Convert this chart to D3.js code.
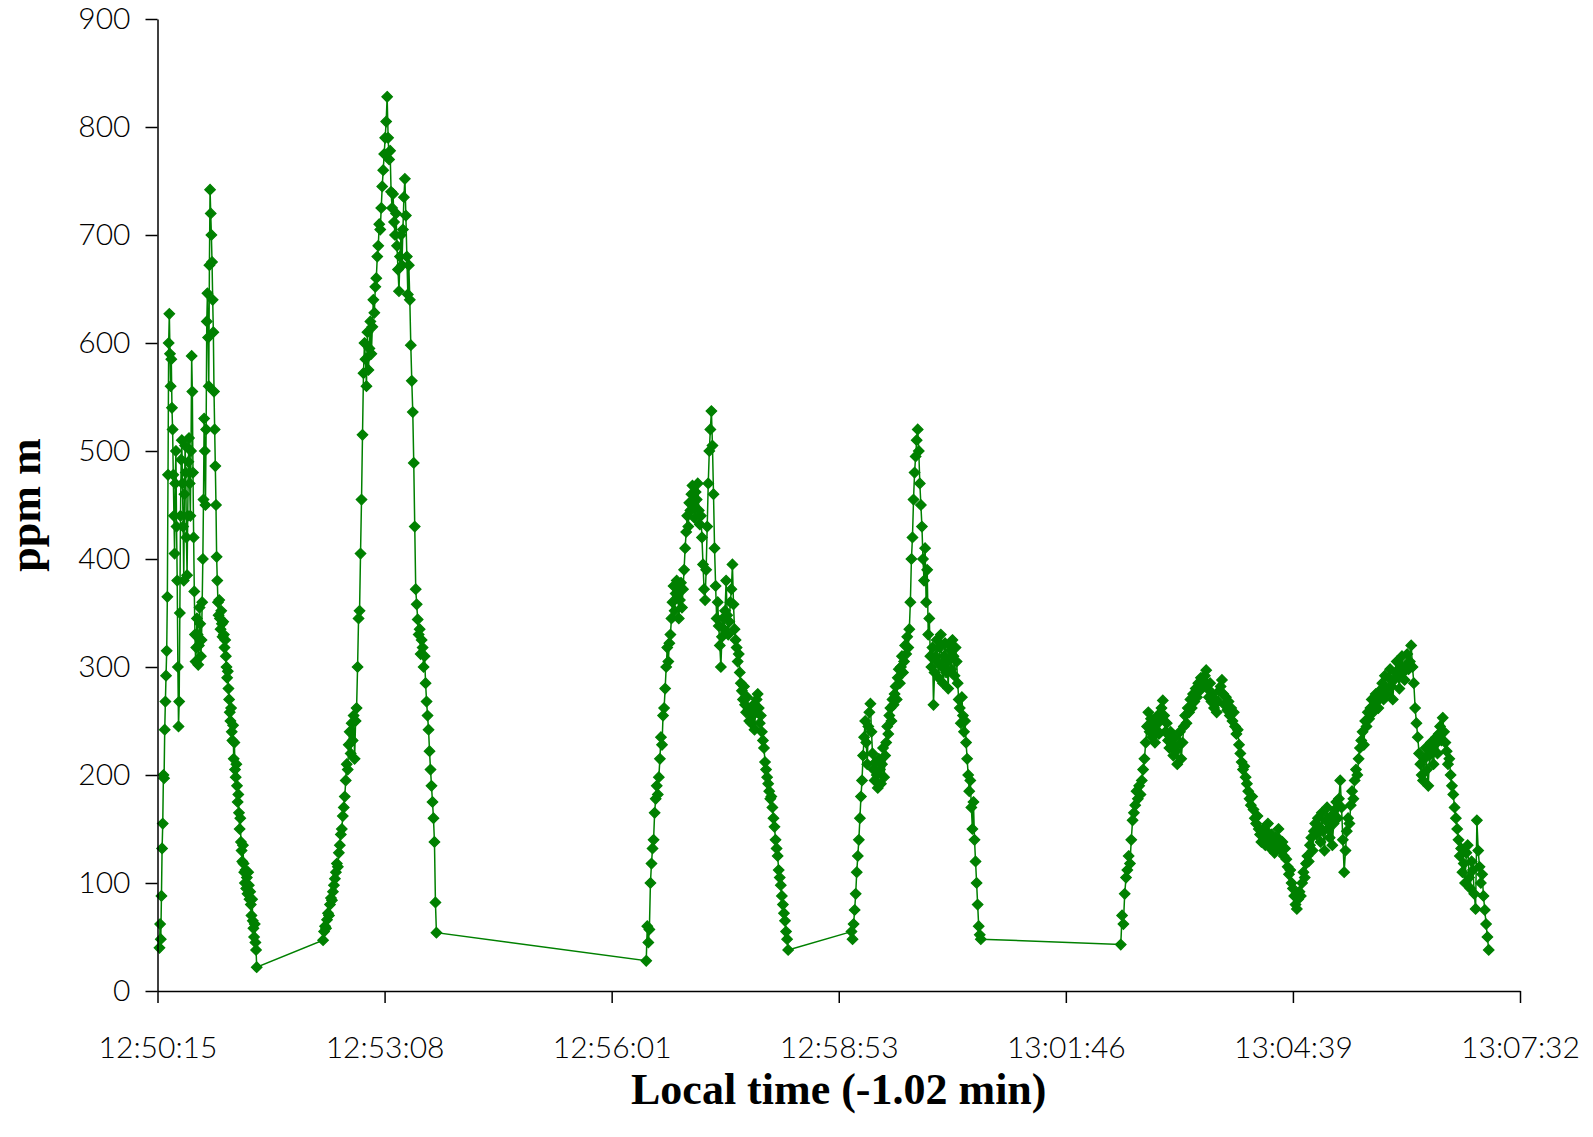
<!DOCTYPE html>
<html>
<head>
<meta charset="utf-8">
<script src="https://cdn.jsdelivr.net/npm/d3@7"></script>
<style>
	body { margin: 0; background: #fff; }
	svg { display: block; }
	.tick text { font-family: Lato, 'Open Sans', sans-serif; font-weight: 300; font-size: 30px; fill: #000; }
	.title { font-family: 'Liberation Serif', 'DejaVu Serif', serif; font-weight: bold; font-size: 44px; fill: #000; }
</style>
</head>
<body>
<svg id="chart" width="1593" height="1137"></svg>
<script>
// seconds after 12:50:15 for the x axis ticks (0.002 day steps)
const xTickSeconds = [0, 172.8, 345.6, 518.4, 691.2, 864, 1036.8];
const xTickLabels = ['12:50:15', '12:53:08', '12:56:01', '12:58:53', '13:01:46', '13:04:39', '13:07:32'];
const yTicks = [0, 100, 200, 300, 400, 500, 600, 700, 800, 900];

// each run of the logger: start (s after 12:50:15) and sample interval (s)
const runStarts = [1.5, 126.0, 371.9, 528.1, 733.0];
const runSteps = [0.5, 0.75, 0.8, 0.8, 1.0];

// ppm m readings
const run1 = [40, 62, 48, 88, 132, 155, 200, 197, 242, 268, 292, 315, 365,
	478, 600, 627, 590, 560, 585, 540, 520, 478, 440, 405, 470, 500, 430, 380, 300, 245,
	268, 350, 440, 492, 510, 470, 430, 380, 460, 505, 480, 420, 385, 440, 490, 512, 470, 440, 500, 588,
	555, 480, 420, 370, 330, 305, 318, 345, 330, 302, 320, 355, 340, 310, 325, 360, 400,
	455, 530, 500, 450, 520, 620, 646, 605, 560, 672, 742, 720, 700, 675, 640, 610, 555,
	520, 486, 450, 402, 380, 360, 348, 362, 345, 335, 352, 340, 328, 342, 330, 318, 325,
	310, 300, 290, 296, 280, 270, 258, 250, 262, 240, 232, 246, 215, 230, 205, 198,
	210, 190, 175, 182, 165, 150, 160, 138, 130, 120, 135, 118,
	110, 100, 112, 95, 105, 90, 110, 98, 85, 92, 80, 70, 85, 65, 58, 50, 62, 45, 38, 22];

const run2 = [47, 55, 60, 58, 66, 72, 70, 80, 86, 84, 92, 98, 104,
	110, 118, 115, 128, 135, 145, 150, 162, 170, 180,
	195, 210, 205, 228, 240, 220, 248, 232, 255, 215, 250,
	262, 300, 345, 352, 405, 455, 515, 572, 600, 585, 560, 610, 575, 595, 620, 590,
	615, 640, 628, 652, 660, 680, 690, 710, 705, 725, 745, 760, 775, 790,
	805, 828, 790, 770, 778, 740, 725, 738, 712, 700, 720, 690, 668, 648, 680, 700, 672,
	705, 735, 752, 718, 680, 645, 672, 640, 598, 565, 536, 489, 430, 372,
	358, 344, 330, 335, 312, 325, 318, 300, 310, 285, 268, 255, 242,
	222, 205, 190, 175, 160, 138, 82, 54];

const run3 = [28, 60, 45, 57, 100, 118, 132, 140, 165, 178, 190, 182,
	198, 215, 235, 228, 255, 262, 280, 300, 318, 305, 322, 330,
	345, 360, 375, 352, 368, 380, 372, 345, 362, 378, 355,
	372, 390, 410, 425, 440, 430, 452, 445, 460, 468, 450, 438, 462, 455, 470, 445, 432, 440,
	420, 395, 372, 362, 390, 430, 470, 500, 520, 537, 505, 460, 410, 375, 345,
	360, 338, 320, 300, 328, 345, 335, 352, 380, 348, 330, 342, 360, 372, 395, 358,
	335, 325, 318, 305, 312, 295,
	285, 278, 270, 282, 265, 258, 272, 260, 250, 262, 248, 255, 265, 242, 258, 270, 275, 262, 248, 255, 240,
	232, 225, 212, 205, 198, 192, 185, 178, 180, 170,
	160, 152, 140, 132, 125, 112, 105, 98, 88, 80, 72, 65, 55, 48, 38];

const run4 = [55, 48, 62, 75, 90, 110, 125, 140, 160, 180, 195, 218, 235, 250,
	230, 210, 245, 258, 266, 240,
	220, 205, 195, 212, 200, 188, 215, 205, 192, 210, 225, 198, 218,
	230, 245, 238, 255, 262, 250, 270, 265,
	275, 282, 270, 290, 298, 285, 300, 310, 295, 305, 320, 312, 328, 318, 335,
	360, 400, 420, 455, 480, 495, 510, 520, 500, 470, 450, 430, 400, 380, 410, 360,
	390, 330, 345, 310, 300, 318,
	265, 295, 310, 325, 305, 290, 318, 330, 300, 285, 310, 322, 295, 305, 280, 320,
	315, 298, 325, 310, 292, 318, 305,
	285, 270, 262, 248, 272, 255, 240, 250,
	230, 215, 200, 185, 195, 170, 150, 175, 140, 120, 100, 80, 60, 52, 48];

const run5 = [43, 70, 62, 90, 105, 112, 125, 118, 140, 158,
	165, 172, 185, 178, 190, 182, 195, 205, 215, 230, 245, 258, 240, 252, 235,
	248, 230, 242, 255, 238, 250, 262, 269,
	255, 240, 248, 232, 225, 240, 228, 218, 235, 222, 210, 228, 240, 215, 230, 245, 255, 248, 262,
	258, 270, 262, 275, 268, 280, 272, 285, 278, 290, 282, 288, 292, 297,
	280, 272, 285, 268, 275, 262, 270, 258, 268, 278, 282, 288, 275, 265, 272, 260, 268, 255, 262, 250, 258,
	245, 238, 242, 228, 220, 212, 205, 208,
	198, 192, 185, 178, 172, 180, 168, 160, 155, 162, 150, 145,
	138, 150, 142, 135, 148, 155, 140, 132, 145, 138, 128, 142, 135, 150, 140, 130, 138, 125, 132,
	122, 115, 108, 112, 100, 95, 88, 80, 76,
	85, 92, 88, 100, 110, 105, 118, 125, 120, 135, 142, 130, 148, 155,
	145, 160, 152, 138, 165, 148, 130, 158, 170, 150, 142, 162, 135, 155, 168, 175, 160, 178, 195, 170, 140, 110,
	130, 148, 160, 155, 172, 185, 178, 195, 205, 200, 215, 225, 232,
	240, 228, 250, 245, 258, 252, 262, 270, 258, 265, 275, 268, 262, 278, 272,
	285, 270, 292, 280, 275, 290, 298, 282, 270, 288, 295, 305, 292, 280, 300, 310, 295, 288, 302, 312, 298, 305, 320,
	300, 285, 262, 248, 235, 220, 210, 200,
	195, 215, 225, 205, 190, 218, 230, 222, 210, 228, 235, 220, 238, 245, 232, 253,
	240, 230, 222, 210, 215, 200, 190, 182, 170, 160, 150,
	140, 125, 132, 110, 118, 100, 128, 135, 105, 95, 120, 112, 90, 76, 158, 130,
	115, 100, 108, 88, 75, 62, 50, 38];

const runs = [run1, run2, run3, run4, run5];

var points = [];
runs.forEach(function (vals, r) {
	vals.forEach(function (v, i) {
		points.push({ t: runStarts[r] + i * runSteps[r], v: v });
	});
});

var svg = d3.select('#chart');
var plotLeft = 157.5, plotRight = 1520, plotTop = 19, plotBottom = 991;

var x = d3.scaleLinear().domain([0, 1036.8]).range([plotLeft, plotRight]);
var y = d3.scaleLinear().domain([0, 900]).range([plotBottom, plotTop]);

var green = '#008000';

// series line
var line = d3.line()
	.x(function (d) { return x(d.t); })
	.y(function (d) { return y(d.v); });

svg.append('path')
	.datum(points)
	.attr('d', line)
	.attr('fill', 'none')
	.attr('stroke', green)
	.attr('stroke-width', 1.5);

// diamond markers
var h = 5.2;
svg.append('g')
	.selectAll('path')
	.data(points)
	.enter()
	.append('path')
	.attr('d', 'M0,' + -h + 'L' + h + ',0L0,' + h + 'L' + -h + ',0Z')
	.attr('transform', function (d) { return 'translate(' + x(d.t) + ',' + y(d.v) + ')'; })
	.attr('fill', green)
	.attr('stroke', green)
	.attr('stroke-width', 1.3)
	.attr('stroke-linejoin', 'miter');

// axes
var xAxis = d3.axisBottom(x)
	.tickValues(xTickSeconds)
	.tickFormat(function (d, i) { return xTickLabels[i]; })
	.tickSize(12)
	.tickSizeOuter(0)
	.tickPadding(34);

var yAxis = d3.axisLeft(y)
	.tickValues(yTicks)
	.tickSize(12)
	.tickSizeOuter(0)
	.tickPadding(15);

var gx = svg.append('g')
	.attr('transform', 'translate(0,' + plotBottom + ')')
	.call(xAxis);

var gy = svg.append('g')
	.attr('transform', 'translate(' + plotLeft + ',0)')
	.call(yAxis);

[gx, gy].forEach(function (g) {
	g.selectAll('path, line').attr('stroke', '#000').attr('stroke-width', 1.5);
	g.attr('font-family', null).attr('font-size', null);
});

// titles
svg.append('text')
	.attr('class', 'title')
	.attr('x', (plotLeft + plotRight) / 2)
	.attr('y', 1104)
	.attr('text-anchor', 'middle')
	.text('Local time (-1.02 min)');

svg.append('text')
	.attr('class', 'title')
	.attr('transform', 'translate(40,' + (plotTop + plotBottom) / 2 + ') rotate(-90)')
	.attr('text-anchor', 'middle')
	.text('ppm m');
</script>
</body>
</html>
